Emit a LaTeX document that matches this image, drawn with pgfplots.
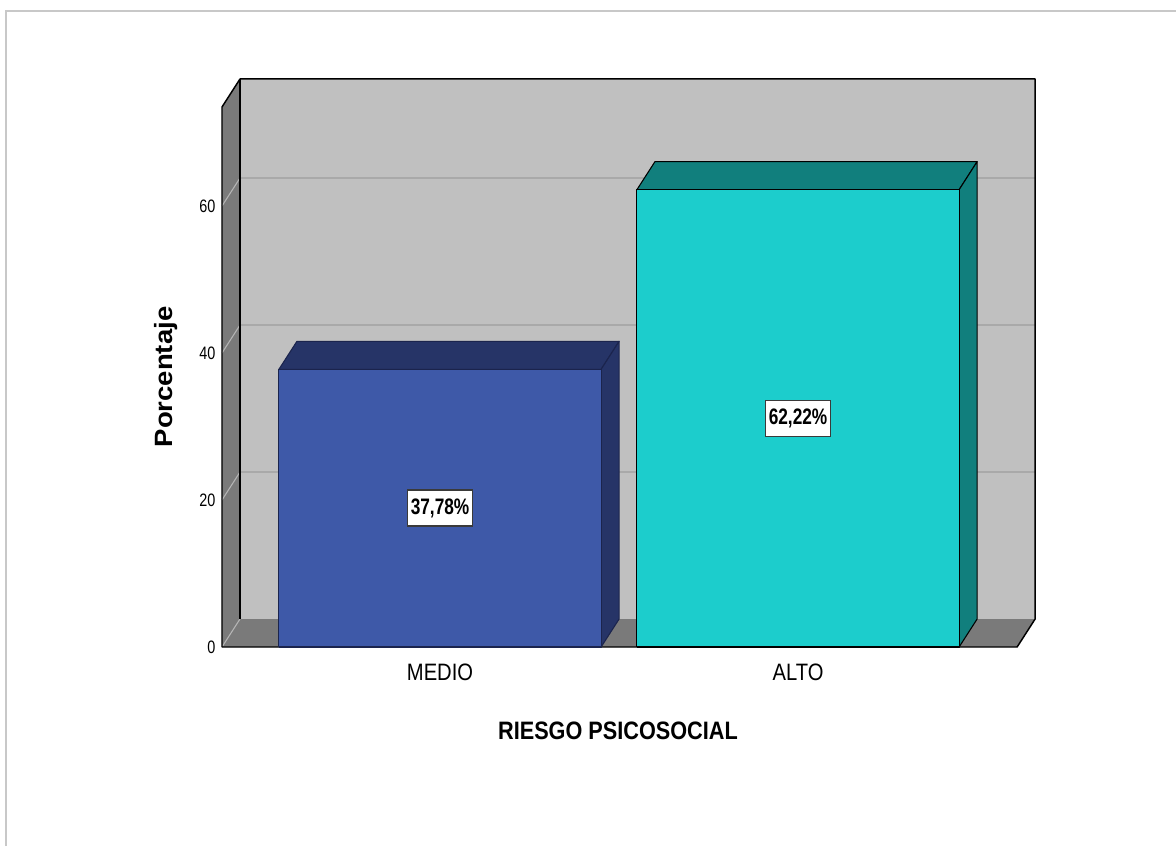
\documentclass[border=0pt]{standalone}
\usepackage{pgfplots}
\pgfplotsset{compat=1.18}
\usepackage{pgfplotstable}
\usepackage{fontspec}
\setmainfont{Liberation Sans}
\newfontfamily\tickfont[FakeStretch=0.8]{Liberation Sans}
\newfontfamily\catfont[FakeStretch=0.85]{Liberation Sans}
\newfontfamily\titlefont[FakeStretch=0.86]{Liberation Sans}
\newfontfamily\yfont[FakeStretch=1.1]{Liberation Sans}
\newfontfamily\valfont[FakeStretch=0.77]{Liberation Sans}

\definecolor{backwall}{HTML}{C0C0C0}
\definecolor{sidewall}{HTML}{7A7A7A}
\definecolor{gridback}{HTML}{A9A9A9}
\definecolor{gridside}{HTML}{B5B5B5}
\definecolor{medioF}{HTML}{3E59A8}
\definecolor{medioD}{HTML}{263467}
\definecolor{medioE}{HTML}{1B244D}
\definecolor{altoF}{HTML}{1CCDCC}
\definecolor{altoD}{HTML}{117F7D}
\definecolor{framegray}{HTML}{C8C8C8}
\definecolor{labeledge}{HTML}{3A3A3A}

% Porcentaje por nivel de riesgo psicosocial
\pgfplotstableread{
pos value
0   37.78
1   62.22
}\riesgo

% axis range and depth of the 3-D box (in axis units)
\def\xlo{-0.609}\def\xhi{1.612}\def\ytop{73.47}
\def\depx{0.0503}\def\depy{3.81}\def\halfw{0.45}
\pgfmathsetmacro\xlob{\xlo+\depx}
\pgfmathsetmacro\xhib{\xhi+\depx}
\pgfmathsetmacro\ytopb{\ytop+\depy}

% one prism-shaped bar: #1 position, #2 value, #3 front, #4 top/side, #5 edge
\newcommand\prismbar[5]{%
  \pgfmathsetmacro\bxl{#1-\halfw}%
  \pgfmathsetmacro\bxr{#1+\halfw}%
  \pgfmathsetmacro\bxlb{#1-\halfw+\depx}%
  \pgfmathsetmacro\bxrb{#1+\halfw+\depx}%
  \pgfmathsetmacro\byt{#2+\depy}%
  \addplot[fill=#4, draw=#5, line width=0.8pt, line join=round]
    coordinates {(\bxl,#2) (\bxr,#2) (\bxrb,\byt) (\bxlb,\byt) (\bxl,#2)};
  \addplot[fill=#4, draw=#5, line width=0.8pt, line join=round]
    coordinates {(\bxr,0) (\bxrb,\depy) (\bxrb,\byt) (\bxr,#2) (\bxr,0)};
  \addplot[fill=#3, draw=#5, line width=0.8pt, line join=round]
    coordinates {(\bxl,0) (\bxr,0) (\bxr,#2) (\bxl,#2) (\bxl,0)};
}

\begin{document}
\begin{tikzpicture}
\path[use as bounding box, fill=white] (-166.5pt,-149.25pt) rectangle (715.5pt,485.25pt);
\draw[framegray, line width=1.5pt] (-162pt,-149.25pt) -- (-162pt,477pt) -- (715.5pt,477pt);

\pgfplotstablegetelem{0}{value}\of\riesgo \let\vmedio\pgfplotsretval
\pgfplotstablegetelem{1}{value}\of\riesgo \let\valto\pgfplotsretval

\begin{axis}[
  at={(0pt,0pt)}, anchor=south west,
  x=268.5pt, y=5.5125pt,
  xmin=\xlo, xmax=\xhi, ymin=0, ymax=\ytop,
  clip=false,
  axis lines*=left,
  axis line style={draw=none},
  major tick length=0pt,
  xtick={0,1}, xticklabels={MEDIO,ALTO},
  ytick={0,20,40,60},
  /pgf/number format/assume math mode=true,
  yticklabel style={font=\tickfont\fontsize{13.5pt}{15pt}\selectfont, xshift=-1.5pt},
  xticklabel style={font=\catfont\fontsize{17.8pt}{20pt}\selectfont, yshift=-9pt},
  xlabel={RIESGO PSICOSOCIAL},
  ylabel={Porcentaje},
  every axis x label/.style={at={(rel axis cs:0.498,-0.1556)}, anchor=center,
    font=\titlefont\bfseries\fontsize{18.9pt}{20pt}\selectfont},
  every axis y label/.style={at={(rel axis cs:-0.0704,0.5)}, anchor=center, rotate=90,
    font=\yfont\bfseries\fontsize{18.75pt}{20pt}\selectfont},
]
  % back wall with its grid
  \addplot[fill=backwall, draw=none]
    coordinates {(\xlob,\depy) (\xhib,\depy) (\xhib,\ytopb) (\xlob,\ytopb)};
  \pgfplotsinvokeforeach{20,40,60}{%
    \pgfmathsetmacro\gy{#1+\depy}%
    \addplot[gridback, line width=0.8pt] coordinates {(\xlob,\gy) (\xhib,\gy)};
  }
  % left wall and floor
  \addplot[fill=sidewall, draw=none]
    coordinates {(\xlo,0) (\xlob,\depy) (\xlob,\ytopb) (\xlo,\ytop)};
  \addplot[fill=sidewall, draw=none]
    coordinates {(\xlo,0) (\xhi,0) (\xhib,\depy) (\xlob,\depy)};
  \pgfplotsinvokeforeach{0,20,40,60}{%
    \pgfmathsetmacro\gy{#1+\depy}%
    \addplot[gridside, line width=0.8pt] coordinates {(\xlo,#1) (\xlob,\gy)};
  }
  % box edges
  \addplot[black, line width=1.1pt, line join=round]
    coordinates {(\xlo,0) (\xlo,\ytop) (\xlob,\ytopb) (\xhib,\ytopb) (\xhib,\depy) (\xhi,0) (\xlo,0)};
  \addplot[black, line width=1.1pt] coordinates {(\xlob,\ytopb) (\xlob,\depy)};

  % bars
  \prismbar{0}{\vmedio}{medioF}{medioD}{medioE}
  \prismbar{1}{\valto}{altoF}{altoD}{black}

  % value labels at mid height
  \addplot[draw=none,
    point meta=explicit,
    nodes near coords={\pgfmathprintnumber[fixed,fixed zerofill,precision=2,use comma]{\pgfplotspointmeta}\%},
    nodes near coords align={center},
    nodes near coords style={anchor=center, fill=white, draw=labeledge, line width=1pt,
      inner sep=0pt, minimum width=48.75pt, minimum height=27pt, text=black,
      font=\valfont\bfseries\fontsize{16.8pt}{18pt}\selectfont},
  ] table[x=pos, y expr=\thisrow{value}/2, meta=value] {\riesgo};
\end{axis}
\end{tikzpicture}
\end{document}
